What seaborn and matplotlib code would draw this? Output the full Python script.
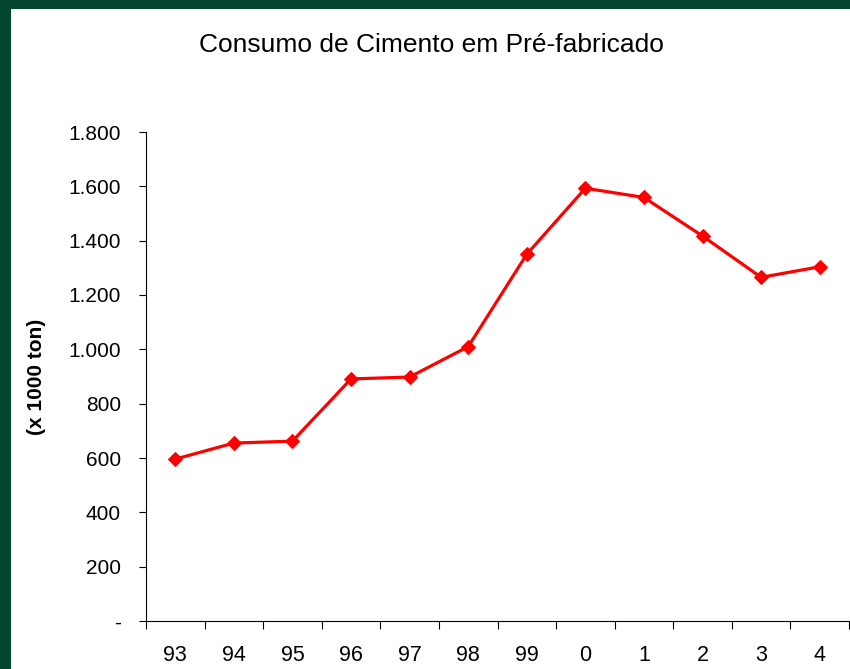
import pandas as pd
import matplotlib
matplotlib.use('Agg')
import matplotlib.pyplot as plt
from matplotlib.patches import Rectangle
from matplotlib.ticker import FuncFormatter, FixedLocator
import seaborn as sns

# Data
anos = ['93', '94', '95', '96', '97', '98', '99', '0', '1', '2', '3', '4']
consumo = [596, 655, 662, 891, 898, 1010, 1350, 1593, 1559, 1417, 1265, 1304]

df = pd.DataFrame({'ano': anos, 'consumo': consumo})

sns.set_theme(style='white')
plt.rcParams['font.family'] = ['Liberation Sans', 'DejaVu Sans']
plt.rcParams['text.color'] = 'black'
plt.rcParams['axes.labelcolor'] = 'black'
plt.rcParams['xtick.color'] = 'black'
plt.rcParams['ytick.color'] = 'black'

fig = plt.figure(figsize=(8.5, 6.69), dpi=100, facecolor='white')

# dark green slide border (left and top)
green = '#01462f'
fig.patches.append(Rectangle((0, 0), 11 / 850, 1, transform=fig.transFigure,
                             facecolor=green, edgecolor='none', zorder=0))
fig.patches.append(Rectangle((0, 1 - 9 / 669), 1, 9 / 669, transform=fig.transFigure,
                             facecolor=green, edgecolor='none', zorder=0))

ax = fig.add_axes([146 / 850, 1 - 621 / 669, 703 / 850, (621 - 132) / 669])
ax.set_facecolor('white')

sns.lineplot(data=df, x='ano', y='consumo', ax=ax, sort=False,
             color='#ff0000', linewidth=2.3, marker='D', markersize=7,
             markeredgecolor='#ff0000')

ax.set_xlim(-0.5, len(anos) - 0.5)
ax.set_ylim(0, 1800)
ax.yaxis.set_major_locator(FixedLocator(range(0, 1801, 200)))
ax.yaxis.set_major_formatter(FuncFormatter(
    lambda v, p: '-' if v == 0 else f'{int(v):,}'.replace(',', '.')))

# ticks at category boundaries, labels at the centres
ax.set_xticks([i - 0.5 for i in range(len(anos) + 1)])
ax.set_xticklabels([])
ax.set_xticks(range(len(anos)), minor=True)
ax.set_xticklabels(anos, minor=True)
ax.tick_params(axis='x', which='major', direction='out', length=6, width=0.8,
               color='black', bottom=True)
ax.tick_params(axis='x', which='minor', length=0, pad=17, labelsize=15.5)
ax.tick_params(axis='y', direction='out', length=5, width=0.8, color='black',
               left=True, pad=13, labelsize=15)

for s in ['top', 'right']:
    ax.spines[s].set_visible(False)
for s in ['left', 'bottom']:
    ax.spines[s].set_color('black')
    ax.spines[s].set_linewidth(0.8)

ax.set_xlabel('')
ax.set_ylabel('(x 1000 ton)', fontsize=15, fontweight='bold', labelpad=16)
fig.text(431 / 850, 1 - 45 / 669, 'Consumo de Cimento em Pré-fabricado',
         ha='center', va='center', fontsize=19, color='black')

fig.savefig('out.png', dpi=100, facecolor=fig.get_facecolor())
